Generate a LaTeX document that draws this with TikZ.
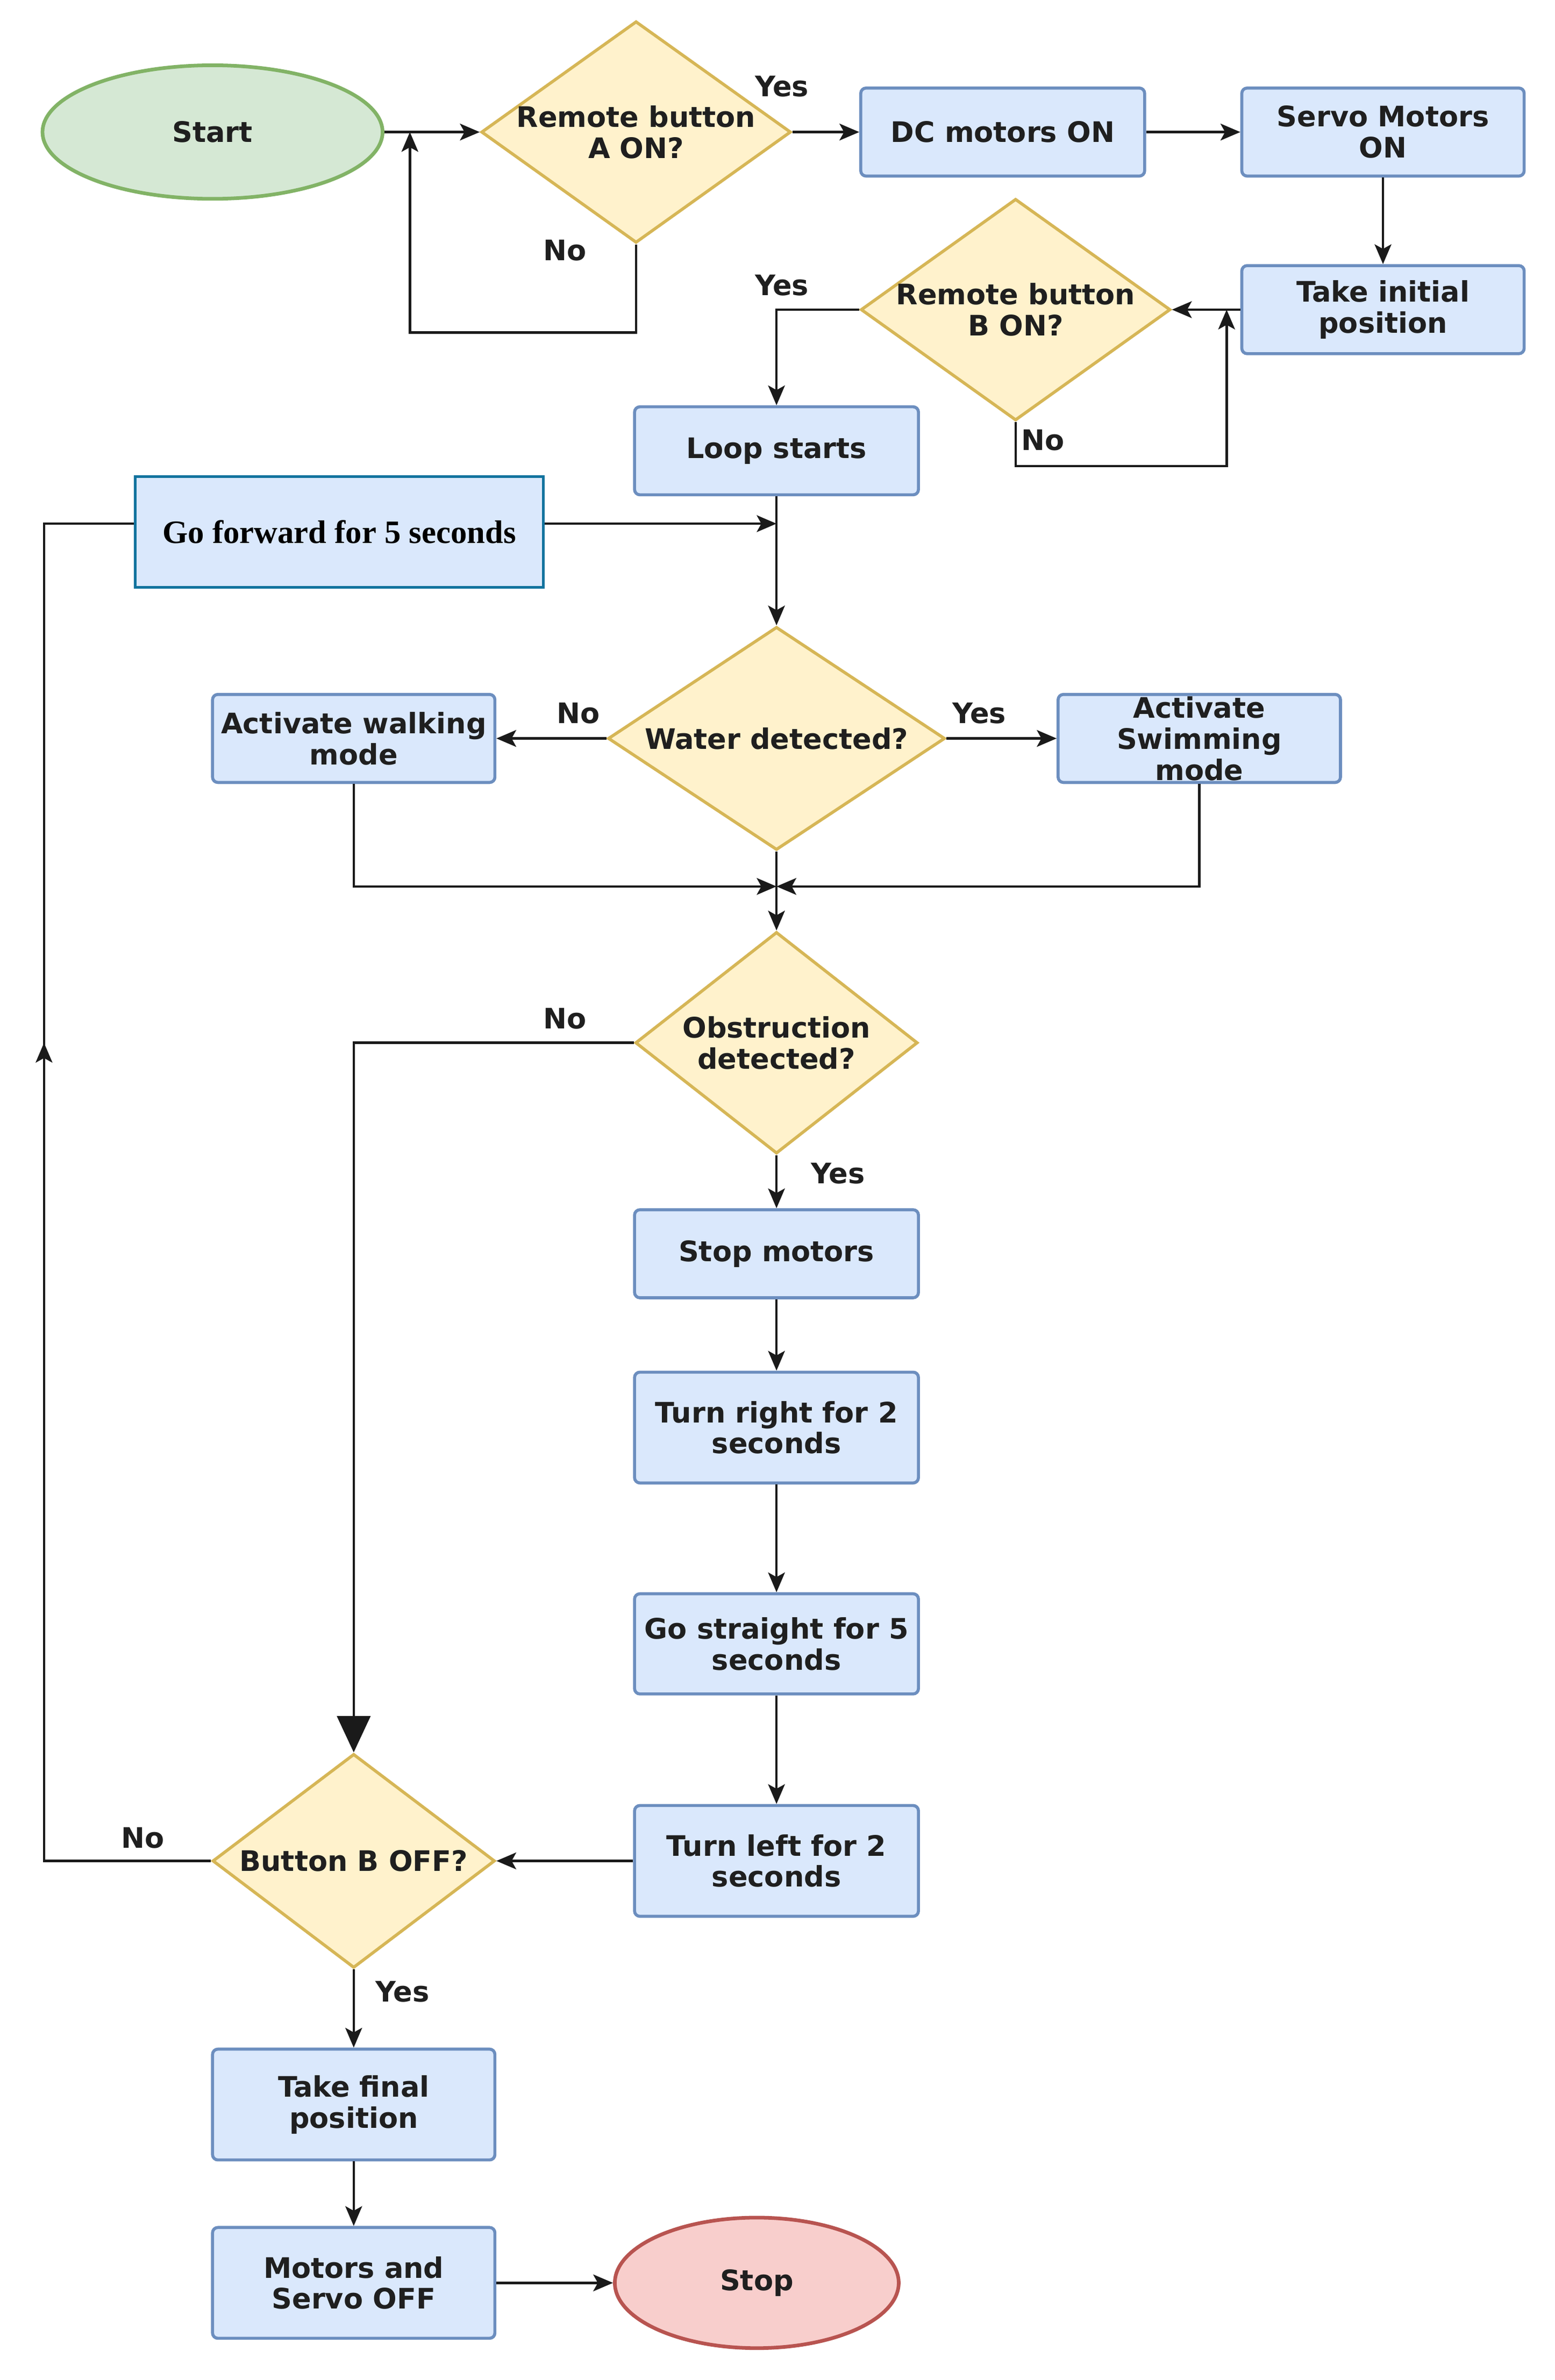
\documentclass[tikz,border=0pt]{standalone}
\usepackage{fontspec}
\setmainfont{DejaVu Sans}
\newfontfamily\tnr{Liberation Serif}
\usetikzlibrary{shapes.geometric,arrows.meta,decorations.markings,calc}
\definecolor{boxfill}{HTML}{DAE8FC}
\definecolor{boxline}{HTML}{6C8EBF}
\definecolor{decfill}{HTML}{FFF2CC}
\definecolor{decline}{HTML}{D6B656}
\definecolor{startfill}{HTML}{D5E8D4}
\definecolor{startline}{HTML}{82B366}
\definecolor{stopfill}{HTML}{F8CECC}
\definecolor{stopline}{HTML}{B85450}
\definecolor{goline}{HTML}{10739E}
\definecolor{txtc}{HTML}{1F1F1F}
\definecolor{wirec}{HTML}{1A1A1A}
\tikzset{
  base/.style={font=\fontsize{18.6}{20.5}\selectfont\bfseries, text=txtc, align=center, inner sep=0pt},
  proc/.style={base, rectangle, rounded corners=3.5pt, draw=boxline, fill=boxfill, line width=2pt, minimum width=187pt, minimum height=58pt},
  decision/.style={diamond, draw=decline, fill=decfill, line width=2pt, inner sep=0pt},
  dtxt/.style={base},
  term/.style={base, ellipse, line width=2.4pt, inner sep=0pt},
  wire/.style={draw=wirec, line width=1.6pt},
  tipstyle/.style={},
  arr/.style={wire, -{Stealth[length=13pt,width=11pt,inset=3pt]}},
  bigarr/.style={wire, -{Triangle[length=24pt,width=22pt]}},
  lbl/.style={base},
}
\begin{document}
\begin{tikzpicture}[x=1pt,y=-1pt]
\useasboundingbox (0,0) rectangle (1024,1568);
\fill[white] (0,0) rectangle (1024,1568);

% ---- nodes ----
\node[term, draw=startline, fill=startfill, minimum width=224pt, minimum height=88pt] (start) at (140,87) {Start};
\node[decision, minimum width=204pt, minimum height=146pt] (dA) at (419,87) {};
\node[dtxt] (dAt) at (dA) {Remote button\\A ON?};
\node[proc] (dc) at (660.5,87) {DC motors ON};
\node[proc, minimum width=186pt] (servo) at (911,87) {Servo Motors\\ON};
\node[proc, minimum width=186pt] (init) at (911,204) {Take initial\\position};
\node[decision, minimum width=204pt, minimum height=146pt] (dB) at (669,204) {};
\node[dtxt] (dBt) at (dB) {Remote button\\B ON?};
\node[proc] (loop) at (511.5,297) {Loop starts};
\node[rectangle, draw=goline, fill=boxfill, line width=1.8pt, minimum width=269pt, minimum height=73pt, inner sep=0pt, text=black, font=\tnr\fontsize{21.5}{24}\selectfont\bfseries] (go) at (223.5,350.5) {Go forward for 5 seconds};
\node[decision, minimum width=222pt, minimum height=147pt] (dW) at (511.5,486.5) {};
\node[dtxt] (dWt) at (dW) {Water detected?};
\node[proc, minimum width=186pt] (walk) at (233,486.5) {Activate walking\\mode};
\node[proc, minimum width=186pt] (swim) at (790,486.5) {};
\node[dtxt] (swimt) at (swim) {Activate\\Swimming\\mode};
\node[decision, minimum width=186pt, minimum height=146pt] (dO) at (511.5,687) {};
\node[dtxt] (dOt) at (dO) {Obstruction\\detected?};
\node[proc] (stopm) at (511.5,826) {Stop motors};
\node[proc, minimum height=73pt] (tright) at (511.5,940.5) {Turn right for 2\\seconds};
\node[proc, minimum height=66pt] (gstraight) at (511.5,1083) {Go straight for 5\\seconds};
\node[proc, minimum height=73pt] (tleft) at (511.5,1226) {Turn left for 2\\seconds};
\node[decision, minimum width=186pt, minimum height=141pt] (dBo) at (233,1226) {};
\node[dtxt] (dBot) at (dBo) {Button B OFF?};
\node[proc, minimum width=186pt, minimum height=73pt] (tfinal) at (233,1386.5) {Take final\\position};
\node[proc, minimum width=186pt, minimum height=73pt] (moff) at (233,1504) {Motors and\\Servo OFF};
\node[term, draw=stopline, fill=stopfill, minimum width=187pt, minimum height=86pt] (stop) at (498.5,1504) {Stop};

% ---- helper coordinates ----
\coordinate (jA) at (270,87);
\coordinate (jB) at (808,204);
\coordinate (jG) at (511.5,345);
\coordinate (jM) at (511.5,584);
\coordinate (cL) at (29,345);

% ---- connectors ----
\draw[arr] (start.east) -- (dA.west);
\draw[arr] (dA.south) -- ++(0,58) -| (jA);
\draw[arr] (dA.east) -- (dc.west);
\draw[arr] (dc.east) -- (servo.west);
\draw[arr] (servo.south) -- (init.north);
\draw[arr] (init.west) -- (dB.east);
\draw[arr] (dB.south) -- ++(0,29) -| (jB);
\draw[arr] (dB.west) -| (loop.north);
\draw[arr] (loop.south) -- (dW.north);
\draw[arr] (go.east |- jG) -- (jG);
\draw[arr] (dW.west) -- (walk.east);
\draw[arr] (dW.east) -- (swim.west);
\draw[arr] (walk.south) |- (jM);
\draw[arr] (swim.south) |- (jM);
\draw[arr] (dW.south) -- (dO.north);
\draw[bigarr] (dO.west) -| (dBo.north);
\draw[arr] (dO.south) -- (stopm.north);
\draw[arr] (stopm.south) -- (tright.north);
\draw[arr] (tright.south) -- (gstraight.north);
\draw[arr] (gstraight.south) -- (tleft.north);
\draw[arr] (tleft.west) -- (dBo.east);
\draw[wire, postaction={decorate}, decoration={markings, mark=at position 0.618 with {\arrow{Stealth[length=13pt,width=11pt,inset=3pt]}}}] (dBo.west) -| (cL) -- (go.west |- cL);
\draw[arr] (dBo.south) -- (tfinal.north);
\draw[arr] (tfinal.south) -- (moff.north);
\draw[arr] (moff.east) -- (stop.west);

% ---- labels ----
\node[lbl] (l1) at (515,57) {Yes};
\node[lbl] (l2) at (372,165) {No};
\node[lbl] (l3) at (515,188) {Yes};
\node[lbl] (l4) at (687,290) {No};
\node[lbl] (l5) at (381,470) {No};
\node[lbl] (l6) at (645,470) {Yes};
\node[lbl] (l7) at (372,671) {No};
\node[lbl] (l8) at (552,773) {Yes};
\node[lbl] (l9) at (94,1211) {No};
\node[lbl] (l10) at (265,1312) {Yes};
\end{tikzpicture}
\end{document}
